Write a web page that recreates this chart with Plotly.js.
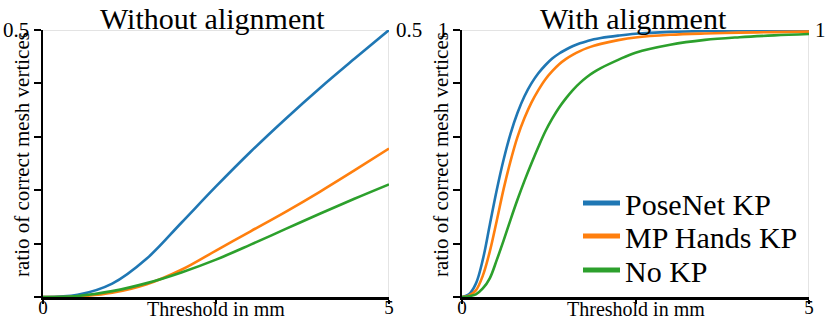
<!DOCTYPE html>
<html>
<head>
<meta charset="utf-8">
<script src="https://cdn.plot.ly/plotly-3.0.1.min.js"></script>
<style>html,body{margin:0;padding:0;background:#fff;}#chart{width:830px;height:322px;}</style>
</head>
<body>
<div id="chart"></div>
<script>
// ---- data ----
var seriesNames = ["PoseNet KP", "MP Hands KP", "No KP"];
var seriesColors = ["#1f77b4", "#ff7f0e", "#2ca02c"];
var panelTitles = ["Without alignment", "With alignment"];
var xTitle = "Threshold in mm";
var yTitle = "ratio of correct mesh vertices";

// Without alignment
var xLeft = [0, 0.5, 1, 1.5, 2, 2.5, 3, 3.5, 4, 4.5, 5];
var leftPoseNet = [0, 0.004, 0.025, 0.072, 0.139, 0.207, 0.272, 0.333, 0.391, 0.446, 0.5];
var leftMPHands = [0, 0.001, 0.008, 0.024, 0.051, 0.087, 0.123, 0.159, 0.197, 0.237, 0.278];
var leftNoKP    = [0, 0.002, 0.011, 0.026, 0.046, 0.070, 0.098, 0.127, 0.156, 0.184, 0.211];

// With alignment
var xRight = [0, 0.1, 0.2, 0.3, 0.4, 0.5, 0.6, 0.7, 0.8, 0.9, 1.0, 1.1, 1.2, 1.3, 1.4, 1.5, 1.6, 1.7, 1.8, 1.9, 2.0, 2.25, 2.5, 3, 3.5, 4, 4.5, 5];
var rightPoseNet = [0, 0.01, 0.05, 0.14, 0.27, 0.40, 0.515, 0.612, 0.69, 0.752, 0.80, 0.838, 0.868, 0.893, 0.912, 0.927, 0.94, 0.95, 0.958, 0.965, 0.97, 0.979, 0.986, 0.993, 0.996, 0.998, 0.999, 1.0];
var rightMPHands = [0, 0.005, 0.025, 0.08, 0.17, 0.285, 0.405, 0.51, 0.60, 0.67, 0.728, 0.775, 0.815, 0.846, 0.872, 0.892, 0.908, 0.921, 0.932, 0.941, 0.948, 0.962, 0.972, 0.982, 0.987, 0.99, 0.992, 0.994];
var rightNoKP    = [0, 0.003, 0.01, 0.032, 0.07, 0.138, 0.212, 0.29, 0.365, 0.435, 0.50, 0.562, 0.62, 0.668, 0.71, 0.745, 0.776, 0.802, 0.824, 0.842, 0.857, 0.888, 0.915, 0.945, 0.963, 0.973, 0.98, 0.985];

var xTickVals = [0, 2.5, 5];
var xTickText = ["0", "", "5"];
var yLeftTickVals = [0, 0.1, 0.2, 0.3, 0.4, 0.5];
var yLeftTickText = ["", "", "", "", "", "0.5"];
var yRightTickVals = [0, 0.2, 0.4, 0.6, 0.8, 1.0];
var yRightTickText = ["", "", "", "", "", "1"];

// ---- chart ----
var FONT = "Liberation Serif";
var leftSeries = [leftPoseNet, leftMPHands, leftNoKP];
var rightSeries = [rightPoseNet, rightMPHands, rightNoKP];
var traces = [];
for (var i = 0; i < 3; i++) {
  traces.push({x: xLeft, y: leftSeries[i], xaxis: "x", yaxis: "y", mode: "lines",
    line: {color: seriesColors[i], width: 2.6, shape: "spline", smoothing: 1}, showlegend: false, name: seriesNames[i]});
}
for (var i = 0; i < 3; i++) {
  traces.push({x: xRight, y: rightSeries[i], xaxis: "x2", yaxis: "y2", mode: "lines",
    line: {color: seriesColors[i], width: 2.6, shape: "spline", smoothing: 1}, showlegend: false, name: seriesNames[i]});
}
var legendIds = ["legend", "legend2", "legend3"];
for (var i = 0; i < 3; i++) {
  traces.push({x: [null], y: [null], xaxis: "x2", yaxis: "y2", mode: "lines",
    line: {color: seriesColors[i], width: 5}, showlegend: true, name: seriesNames[i], legend: legendIds[i]});
}

var H = 322, W = 830;
function py(p) { return 1 - p / H; }
function px(p) { return p / W; }
var yDom = [py(297), py(30)];

var axCommon = {
  showgrid: false, zeroline: false, showline: true, linecolor: "#000", linewidth: 2.5,
  ticks: "outside", tickcolor: "#000", tickwidth: 2,
  tickfont: {family: FONT, size: 21, color: "#000"}, fixedrange: true
};
function ax(extra) { var o = {}; for (var k in axCommon) o[k] = axCommon[k]; for (var k in extra) o[k] = extra[k]; return o; }
var xTickFont = {family: FONT, size: 19, color: "#000"};

var legCommon = function (yc) {
  return {x: px(578), xanchor: "left", y: py(yc), yanchor: "middle", bgcolor: "rgba(0,0,0,0)",
    font: {family: FONT, size: 30, color: "#000"}, itemwidth: 37, borderwidth: 0};
};

var layout = {
  width: W, height: H,
  font: {family: FONT, color: "#000"},
  margin: {l: 0, r: 0, t: 0, b: 0},
  paper_bgcolor: "#fff", plot_bgcolor: "#fff",
  xaxis: ax({domain: [px(43), px(389)], range: [0, 5], tickvals: xTickVals, ticktext: xTickText, ticklen: 4, ticklabelstandoff: -12, tickfont: xTickFont, anchor: "y"}),
  yaxis: ax({domain: yDom, range: [0, 0.5], tickvals: yLeftTickVals, ticktext: yLeftTickText, ticklen: 7, anchor: "x"}),
  xaxis2: ax({domain: [px(462), px(809)], range: [0, 5], tickvals: xTickVals, ticktext: xTickText, ticklen: 4, ticklabelstandoff: -12, tickfont: xTickFont, anchor: "y2"}),
  yaxis2: ax({domain: yDom, range: [0, 1], tickvals: yRightTickVals, ticktext: yRightTickText, ticklen: 7, anchor: "x2"}),
  legend: legCommon(203),
  legend2: legCommon(236),
  legend3: legCommon(270),
  shapes: [
    {type: "line", xref: "x", yref: "y", x0: 0, x1: 5, y0: 0.5, y1: 0.5, line: {color: "#c8c8c8", width: 1}, layer: "below"},
    {type: "line", xref: "x", yref: "y", x0: 5, x1: 5, y0: 0, y1: 0.5, line: {color: "#c8c8c8", width: 1}, layer: "below"},
    {type: "line", xref: "x2", yref: "y2", x0: 0, x1: 5, y0: 1, y1: 1, line: {color: "#c8c8c8", width: 1}, layer: "below"},
    {type: "line", xref: "x2", yref: "y2", x0: 5, x1: 5, y0: 0, y1: 1, line: {color: "#c8c8c8", width: 1}, layer: "below"}
  ],
  annotations: [
    {text: panelTitles[0], xref: "paper", yref: "paper", x: px(213), y: 1, xanchor: "center", yanchor: "top", showarrow: false, font: {family: FONT, size: 30, color: "#000"}},
    {text: panelTitles[1], xref: "paper", yref: "paper", x: px(633), y: 1, xanchor: "center", yanchor: "top", showarrow: false, font: {family: FONT, size: 30, color: "#000"}},
    {text: xTitle, xref: "paper", yref: "paper", x: px(216), y: 0, xanchor: "center", yanchor: "bottom", showarrow: false, font: {family: FONT, size: 20, color: "#000"}},
    {text: xTitle, xref: "paper", yref: "paper", x: px(636), y: 0, xanchor: "center", yanchor: "bottom", showarrow: false, font: {family: FONT, size: 20, color: "#000"}},
    {text: yTitle, textangle: -90, xref: "paper", yref: "paper", x: px(22), y: py(155), xanchor: "center", yanchor: "middle", showarrow: false, font: {family: FONT, size: 21, color: "#000"}},
    {text: yTitle, textangle: -90, xref: "paper", yref: "paper", x: px(441), y: py(155), xanchor: "center", yanchor: "middle", showarrow: false, font: {family: FONT, size: 21, color: "#000"}},
    {text: "0.5", xref: "paper", yref: "y", x: px(394), y: 0.5, xanchor: "left", yanchor: "middle", showarrow: false, font: {family: FONT, size: 21, color: "#000"}},
    {text: "1", xref: "paper", yref: "y2", x: px(813), y: 1, xanchor: "left", yanchor: "middle", showarrow: false, font: {family: FONT, size: 21, color: "#000"}}
  ]
};

Plotly.newPlot("chart", traces, layout, {displayModeBar: false, staticPlot: true});
</script>
</body>
</html>
